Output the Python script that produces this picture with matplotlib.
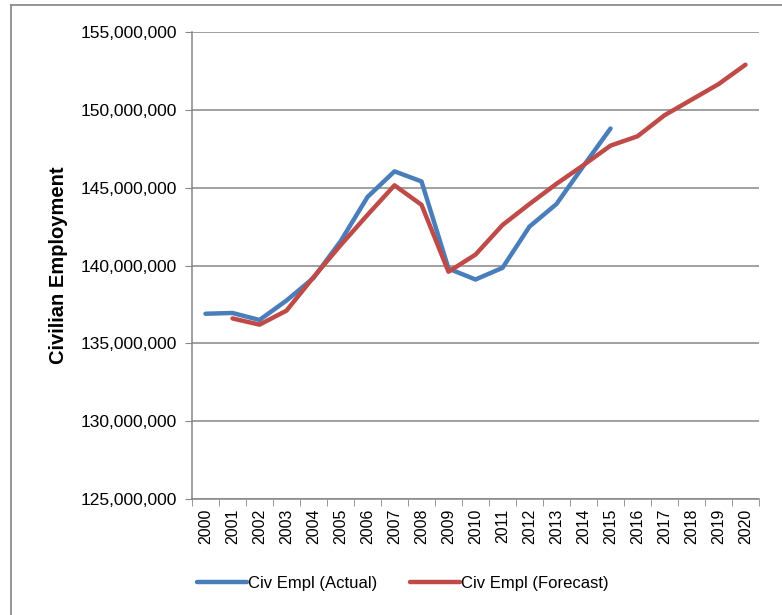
import matplotlib.pyplot as plt
from matplotlib.lines import Line2D
from matplotlib.ticker import FuncFormatter, FixedLocator

plt.rcParams['font.family'] = ['Liberation Sans', 'DejaVu Sans']

# Data
years = [str(y) for y in range(2000, 2021)]
actual = [136.9, 136.95, 136.5, 137.75, 139.2, 141.55, 144.4, 146.05, 145.4,
          139.8, 139.1, 139.85, 142.5, 143.95, 146.4, 148.8]
forecast = [136.6, 136.2, 137.1, 139.25, 141.3, 143.25, 145.15, 143.9,
            139.6, 140.7, 142.6, 143.95, 145.25, 146.45, 147.7, 148.3,
            149.65, 150.65, 151.65, 152.9]
actual = [v * 1e6 for v in actual]
forecast = [v * 1e6 for v in forecast]

blue = '#4A7EBB'
red = '#BE4B48'
grey = '#868686'

fig = plt.figure(figsize=(7.82, 6.15), dpi=100)
ax = fig.add_axes([192 / 782, 1 - 499 / 615, (759 - 192) / 782, (499 - 32) / 615])

# chart area border (left and top visible)
fig.add_artist(Line2D([11 / 782, 11 / 782], [0, 1 - 5 / 615], color='#8C8C8C', lw=1.3))
fig.add_artist(Line2D([11 / 782, 1], [1 - 5 / 615, 1 - 5 / 615], color='#8C8C8C', lw=1.3))

x_act = list(range(len(actual)))
x_fc = list(range(1, 1 + len(forecast)))
ax.plot(x_act, actual, color=blue, lw=3.2, solid_capstyle='round',
        solid_joinstyle='round', label='Civ Empl (Actual)', zorder=3)
ax.plot(x_fc, forecast, color=red, lw=3.2, solid_capstyle='round',
        solid_joinstyle='round', label='Civ Empl (Forecast)', zorder=4)

ax.set_xlim(-0.5, len(years) - 0.5)
ax.set_ylim(125e6, 155e6)
ax.set_yticks([125e6 + i * 5e6 for i in range(7)])
ax.yaxis.set_major_formatter(FuncFormatter(lambda v, p: f'{int(v):,}'))
ax.grid(axis='y', color=grey, lw=1.1)
ax.set_axisbelow(True)

ax.set_xticks(range(len(years)))
ax.set_xticklabels(years, rotation=90, fontsize=11.5)
ax.xaxis.set_minor_locator(FixedLocator([i - 0.5 for i in range(len(years) + 1)]))
ax.tick_params(axis='x', which='major', length=0, pad=7)
ax.tick_params(axis='x', which='minor', length=5, color=grey, direction='out')
ax.tick_params(axis='y', length=5, color=grey, labelsize=12.5, pad=6)

for s in ['top', 'right']:
    ax.spines[s].set_visible(False)
for s in ['left', 'bottom']:
    ax.spines[s].set_color(grey)
    ax.spines[s].set_linewidth(1.1)

ax.set_ylabel('Civilian Employment', fontsize=14.5, fontweight='bold', labelpad=9)

fig.legend(loc='center', bbox_to_anchor=(0.515, 0.052), ncol=2, frameon=False,
           fontsize=12, handlelength=3.0, handletextpad=0.05, columnspacing=2.0)

fig.savefig('out.png', dpi=100)
